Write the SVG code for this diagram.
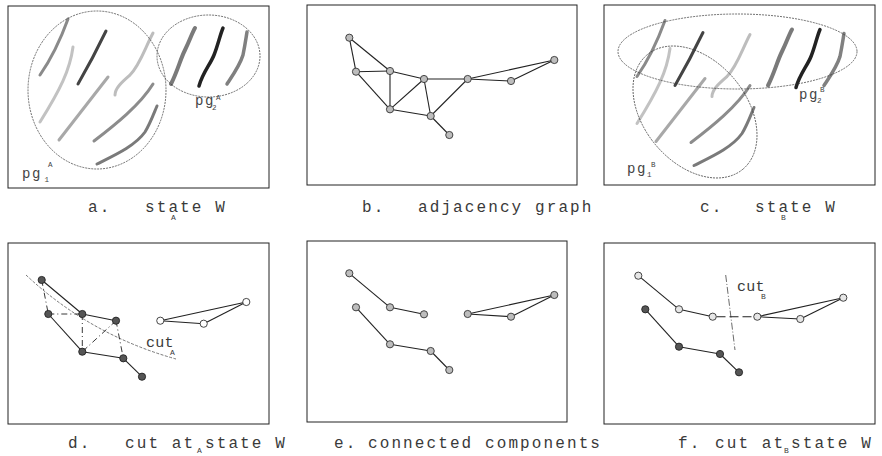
<svg xmlns="http://www.w3.org/2000/svg" xmlns:xlink="http://www.w3.org/1999/xlink" width="882" height="456" viewBox="0 0 882 456">
<style>
.frame{fill:#fff;stroke:#222;stroke-width:1}
.ell{fill:none;stroke:#333;stroke-width:0.7;stroke-dasharray:2 1}
.st{fill:none;stroke-linecap:round;stroke-linejoin:round}
.e{stroke:#222;stroke-width:1.1;fill:none}
.cutedge{stroke:#222;stroke-width:0.9;fill:none;stroke-dasharray:6 3 1 3}
.dash{stroke:#222;stroke-width:1.1;fill:none;stroke-dasharray:9 4}
.cutline{stroke:#555;stroke-width:0.8;fill:none;stroke-dasharray:3 1.5}
.cutline2{stroke:#444;stroke-width:0.8;fill:none;stroke-dasharray:7 2 1 2}
.ng{fill:#bdbdbd;stroke:#333;stroke-width:0.9}
.nd{fill:#555;stroke:#222;stroke-width:0.9}
.nw{fill:#fff;stroke:#333;stroke-width:0.9}
.nl{fill:#e6e6e6;stroke:#333;stroke-width:0.9}
.cap{font-family:"Liberation Mono","DejaVu Sans Mono",monospace;font-size:16px;letter-spacing:2.1px;fill:#3a3a3a}
.sub{font-size:8px;letter-spacing:0}
.lbl{font-family:"Liberation Mono","DejaVu Sans Mono",monospace;font-size:14px;letter-spacing:1.5px;fill:#444}
.lsub{font-size:7.5px;letter-spacing:0}
.cut{font-family:"Liberation Mono","DejaVu Sans Mono",monospace;font-size:15px;letter-spacing:0.3px;fill:#3a3a3a}
</style>
<defs>
<g id="strokes">
<path class="st" d="M40,75 Q56,52 68,19" stroke="#8a8a8a" stroke-width="3"/>
<path class="st" d="M78,84 Q93,58 106,31" stroke="#444" stroke-width="3"/>
<path class="st" d="M73,47 C70,70 60,90 40,122" stroke="#c2c2c2" stroke-width="3"/>
<path class="st" d="M153,33 C145,48 140,65 130,75 C122,82 115,88 115,95" stroke="#bdbdbd" stroke-width="3"/>
<path class="st" d="M59,140 L108,77" stroke="#a8a8a8" stroke-width="3"/>
<path class="st" d="M94,141 C115,125 140,105 153,84" stroke="#8c8c8c" stroke-width="3"/>
<path class="st" d="M97,164 C115,155 135,146 145,132 C150,124 154,113 157,106" stroke="#7a7a7a" stroke-width="3"/>
<path class="st" d="M171,84 C178,70 180,60 185,50 C190,40 192,33 195,28" stroke="#7a7a7a" stroke-width="4"/>
<path class="st" d="M199,86 C203,72 210,65 214,55 C218,45 220,35 223,28" stroke="#222" stroke-width="3.5"/>
<path class="st" d="M227,84 C235,72 240,65 243,55 C245,45 246,38 247,32" stroke="#808080" stroke-width="3.5"/>
</g>
</defs>

<!-- Panel a -->
<g id="panel-a">
<rect class="frame" x="8" y="6" width="261" height="182"/>
<use xlink:href="#strokes" href="#strokes"/>
<g id="pg1A"><ellipse class="ell" cx="97" cy="90" rx="69" ry="79"/>
<text class="lbl" x="22" y="178">pg<tspan class="lsub" x="44.5" y="182">1</tspan><tspan class="lsub" x="48" y="167">A</tspan></text></g>
<g id="pg2A"><ellipse class="ell" cx="208.5" cy="56" rx="51.5" ry="41"/>
<text class="lbl" x="195" y="105">pg<tspan class="lsub" x="212" y="110">2</tspan><tspan class="lsub" x="216" y="100">A</tspan></text></g>
</g>

<!-- Panel b -->
<g id="panel-b">
<rect class="frame" x="307" y="5" width="270" height="180"/>
<g id="b-edges">
<line class="e" x1="349.3" y1="37.7" x2="356" y2="71.7"/>
<line class="e" x1="349.3" y1="37.7" x2="390" y2="71"/>
<line class="e" x1="356" y1="71.7" x2="390" y2="71"/>
<line class="e" x1="356" y1="71.7" x2="390" y2="109.3"/>
<line class="e" x1="390" y1="71" x2="390" y2="109.3"/>
<line class="e" x1="390" y1="71" x2="424" y2="79"/>
<line class="e" x1="424" y1="79" x2="390" y2="109.3"/>
<line class="e" x1="424" y1="79" x2="430.7" y2="116"/>
<line class="e" x1="424" y1="79" x2="467.7" y2="79"/>
<line class="e" x1="390" y1="109.3" x2="430.7" y2="116"/>
<line class="e" x1="430.7" y1="116" x2="449.3" y2="135"/>
<line class="e" x1="430.7" y1="116" x2="467.7" y2="79"/>
<line class="e" x1="467.7" y1="79" x2="554.3" y2="60"/>
<line class="e" x1="467.7" y1="79" x2="511" y2="81"/>
<line class="e" x1="511" y1="81" x2="554.3" y2="60"/>
</g>
<g id="b-n1"><circle class="ng" cx="349.3" cy="37.7" r="3.6"/></g>
<g id="b-n2"><circle class="ng" cx="356" cy="71.7" r="3.6"/></g>
<g id="b-n3"><circle class="ng" cx="390" cy="71" r="3.6"/></g>
<g id="b-n4"><circle class="ng" cx="424" cy="79" r="3.6"/></g>
<g id="b-n5"><circle class="ng" cx="467.7" cy="79" r="3.6"/></g>
<g id="b-n6"><circle class="ng" cx="511" cy="81" r="3.6"/></g>
<g id="b-n7"><circle class="ng" cx="554.3" cy="60" r="3.6"/></g>
<g id="b-n8"><circle class="ng" cx="390" cy="109.3" r="3.6"/></g>
<g id="b-n9"><circle class="ng" cx="430.7" cy="116" r="3.6"/></g>
<g id="b-n10"><circle class="ng" cx="449.3" cy="135" r="3.6"/></g>
</g>

<!-- Panel c -->
<g id="panel-c">
<rect class="frame" x="604" y="5" width="271" height="180"/>
<use xlink:href="#strokes" href="#strokes" transform="translate(597,1.5)"/>
<g id="pg2B"><ellipse class="ell" cx="737.5" cy="51.5" rx="119.5" ry="37.5"/>
<text class="lbl" x="799" y="99">pg<tspan class="lsub" x="817" y="103">2</tspan><tspan class="lsub" x="820" y="92">B</tspan></text></g>
<g id="pg1B"><ellipse class="ell" cx="695" cy="112" rx="74.6" ry="51.3" transform="rotate(50 695 112)"/>
<text class="lbl" x="627" y="173">pg<tspan class="lsub" x="647" y="177">1</tspan><tspan class="lsub" x="651" y="167">B</tspan></text></g>
</g>

<!-- Panel d -->
<g id="panel-d">
<rect class="frame" x="8" y="243" width="261" height="181"/>
<g id="d-edges">
<path class="cutline" d="M26,275 Q90,335 176,359"/>
<line class="cutedge" x1="41.7" y1="280" x2="48.3" y2="314"/>
<line class="cutedge" x1="48.3" y1="314" x2="82.3" y2="314"/>
<line class="cutedge" x1="82.3" y1="314" x2="82.3" y2="351.7"/>
<line class="cutedge" x1="116" y1="320.7" x2="82.3" y2="351.7"/>
<line class="cutedge" x1="116" y1="320.7" x2="123.3" y2="358.3"/>
<line class="e" x1="41.7" y1="280" x2="82.3" y2="314"/>
<line class="e" x1="82.3" y1="314" x2="116" y2="320.7"/>
<line class="e" x1="48.3" y1="314" x2="82.3" y2="351.7"/>
<line class="e" x1="82.3" y1="351.7" x2="123.3" y2="358.3"/>
<line class="e" x1="123.3" y1="358.3" x2="142" y2="376.7"/>
<line class="e" x1="160.3" y1="320.7" x2="246.3" y2="302"/>
<line class="e" x1="160.3" y1="320.7" x2="203.7" y2="323.7"/>
<line class="e" x1="203.7" y1="323.7" x2="246.3" y2="302"/>
</g>
<g id="d-n1"><circle class="nd" cx="41.7" cy="280" r="3.6"/></g>
<g id="d-n2"><circle class="nd" cx="48.3" cy="314" r="3.6"/></g>
<g id="d-n3"><circle class="nd" cx="82.3" cy="314" r="3.6"/></g>
<g id="d-n4"><circle class="nd" cx="116" cy="320.7" r="3.6"/></g>
<g id="d-n8"><circle class="nd" cx="82.3" cy="351.7" r="3.6"/></g>
<g id="d-n9"><circle class="nd" cx="123.3" cy="358.3" r="3.6"/></g>
<g id="d-n10"><circle class="nd" cx="142" cy="376.7" r="3.6"/></g>
<g id="d-n5"><circle class="nw" cx="160.3" cy="320.7" r="3.6"/></g>
<g id="d-n6"><circle class="nw" cx="203.7" cy="323.7" r="3.6"/></g>
<g id="d-n7"><circle class="nw" cx="246.3" cy="302" r="3.6"/></g>
<text class="cut" x="146" y="347">cut<tspan class="sub" x="170" y="355">A</tspan></text>
</g>

<!-- Panel e -->
<g id="panel-e">
<rect class="frame" x="307" y="241" width="260" height="181"/>
<g id="e-edges">
<line class="e" x1="349.3" y1="273.3" x2="390" y2="307.3"/>
<line class="e" x1="390" y1="307.3" x2="424" y2="314.3"/>
<line class="e" x1="356" y1="307.3" x2="390" y2="344.3"/>
<line class="e" x1="390" y1="344.3" x2="430.7" y2="351"/>
<line class="e" x1="430.7" y1="351" x2="449.3" y2="370"/>
<line class="e" x1="467.7" y1="314" x2="554.3" y2="295"/>
<line class="e" x1="467.7" y1="314" x2="511" y2="316.7"/>
<line class="e" x1="511" y1="316.7" x2="554.3" y2="295"/>
</g>
<g id="e-n1"><circle class="ng" cx="349.3" cy="273.3" r="3.6"/></g>
<g id="e-n2"><circle class="ng" cx="356" cy="307.3" r="3.6"/></g>
<g id="e-n3"><circle class="ng" cx="390" cy="307.3" r="3.6"/></g>
<g id="e-n4"><circle class="ng" cx="424" cy="314.3" r="3.6"/></g>
<g id="e-n5"><circle class="ng" cx="467.7" cy="314" r="3.6"/></g>
<g id="e-n6"><circle class="ng" cx="511" cy="316.7" r="3.6"/></g>
<g id="e-n7"><circle class="ng" cx="554.3" cy="295" r="3.6"/></g>
<g id="e-n8"><circle class="ng" cx="390" cy="344.3" r="3.6"/></g>
<g id="e-n9"><circle class="ng" cx="430.7" cy="351" r="3.6"/></g>
<g id="e-n10"><circle class="ng" cx="449.3" cy="370" r="3.6"/></g>
</g>

<!-- Panel f -->
<g id="panel-f">
<rect class="frame" x="604" y="243" width="271" height="181"/>
<g id="f-edges">
<line class="cutline2" x1="725.7" y1="275" x2="735" y2="350"/>
<line class="e" x1="638.3" y1="275.7" x2="679" y2="309.3"/>
<line class="e" x1="679" y1="309.3" x2="712.7" y2="316.7"/>
<line class="dash" x1="716.5" y1="316.7" x2="753.5" y2="316.7"/>
<line class="e" x1="757.3" y1="316.7" x2="843.3" y2="297.7"/>
<line class="e" x1="757.3" y1="316.7" x2="800.3" y2="319"/>
<line class="e" x1="800.3" y1="319" x2="843.3" y2="297.7"/>
<line class="e" x1="645.3" y1="309.3" x2="679" y2="346.7"/>
<line class="e" x1="679" y1="346.7" x2="720" y2="354"/>
<line class="e" x1="720" y1="354" x2="739" y2="372.3"/>
</g>
<g id="f-n1"><circle class="nl" cx="638.3" cy="275.7" r="3.6"/></g>
<g id="f-n3"><circle class="nl" cx="679" cy="309.3" r="3.6"/></g>
<g id="f-n4"><circle class="nl" cx="712.7" cy="316.7" r="3.6"/></g>
<g id="f-n5"><circle class="nl" cx="757.3" cy="316.7" r="3.6"/></g>
<g id="f-n6"><circle class="nl" cx="800.3" cy="319" r="3.6"/></g>
<g id="f-n7"><circle class="nl" cx="843.3" cy="297.7" r="3.6"/></g>
<g id="f-n2"><circle class="nd" cx="645.3" cy="309.3" r="3.6"/></g>
<g id="f-n8"><circle class="nd" cx="679" cy="346.7" r="3.6"/></g>
<g id="f-n9"><circle class="nd" cx="720" cy="354" r="3.6"/></g>
<g id="f-n10"><circle class="nd" cx="739" cy="372.3" r="3.6"/></g>
<text class="cut" x="737" y="291">cut<tspan class="sub" x="761" y="299">B</tspan></text>
</g>

<!-- Captions -->
<g id="captions">
<text class="cap" x="88" y="212">a.</text><text class="cap" x="145" y="212">state W<tspan class="sub" x="171" y="220">A</tspan></text>
<text class="cap" x="362" y="212">b.</text><text class="cap" x="418" y="212">adjacency graph</text>
<text class="cap" x="700" y="212">c.</text><text class="cap" x="755" y="212">state W<tspan class="sub" x="781" y="220">B</tspan></text>
<text class="cap" x="68" y="448">d.</text><text class="cap" x="125" y="448">cut at<tspan class="sub" x="197" y="453">A</tspan><tspan x="205" y="448">state W</tspan></text>
<text class="cap" x="334" y="448">e.</text><text class="cap" x="368" y="448">connected components</text>
<text class="cap" x="678" y="448">f.</text><text class="cap" x="715" y="448">cut at<tspan class="sub" x="784" y="453">B</tspan><tspan x="791" y="448">state W</tspan></text>
</g>
</svg>
